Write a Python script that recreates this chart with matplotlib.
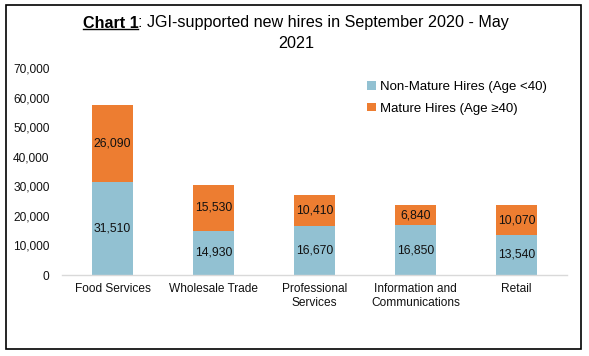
import matplotlib
matplotlib.use("Agg")
import matplotlib.pyplot as plt
from matplotlib.patches import Rectangle
from matplotlib.lines import Line2D
from matplotlib.ticker import FuncFormatter

plt.rcParams['font.family'] = ['Liberation Sans', 'DejaVu Sans']

categories = ["Food Services", "Wholesale Trade", "Professional\nServices",
              "Information and\nCommunications", "Retail"]
non_mature = [31510, 14930, 16670, 16850, 13540]
mature = [26090, 15530, 10410, 6840, 10070]
series_names = ["Non-Mature Hires (Age <40)", "Mature Hires (Age \u226540)"]
colors = ["#92C1D2", "#ED7D31"]

W, H = 589, 356
fig = plt.figure(figsize=(W / 100, H / 100), dpi=100)
ax = fig.add_axes([62 / W, (H - 275) / H, (567 - 62) / W, (275 - 68) / H])

x = list(range(len(categories)))
ax.bar(x, non_mature, width=0.4, color=colors[0], label=series_names[0])
ax.bar(x, mature, width=0.4, bottom=non_mature, color=colors[1], label=series_names[1])

for i in x:
    ax.text(i, non_mature[i] / 2, f"{non_mature[i]:,}", ha="center", va="center", fontsize=8.8, color="#111111")
    ax.text(i, non_mature[i] + mature[i] / 2, f"{mature[i]:,}", ha="center", va="center", fontsize=8.8, color="#111111")

ax.set_xlim(-0.5, len(categories) - 0.5)
ax.set_ylim(0, 70000)
ax.set_yticks(range(0, 70001, 10000))
ax.yaxis.set_major_formatter(FuncFormatter(lambda v, p: f"{int(v):,}"))
ax.set_xticks(x)
ax.set_xticklabels(categories, fontsize=8.6, color="#111111", linespacing=1.2)
ax.tick_params(axis="y", length=0, labelsize=8.6, labelcolor="#111111", pad=9)
ax.tick_params(axis="x", length=0, pad=6)
for s in ["top", "right", "left"]:
    ax.spines[s].set_visible(False)
ax.spines["bottom"].set_color("#D9D9D9")
ax.spines["bottom"].set_linewidth(1.0)

ax.legend(loc="upper left", bbox_to_anchor=((362 - 62) / (567 - 62), 1.0 - (76 - 68) / (275 - 68)),
          frameon=False, fontsize=9.5, handlelength=0.65, handleheight=0.65,
          handletextpad=0.35, labelspacing=0.7, borderaxespad=0)

# border
fig.patches.append(Rectangle((6 / W, (H - 349) / H), 575 / W, 344 / H, transform=fig.transFigure,
                             fill=False, edgecolor="black", linewidth=1.2))

# title
tsize = 11.6
cx = 296 / W
y1 = (H - 23) / H
t_a = fig.text(0, y1, "Chart 1", fontsize=tsize, fontweight="bold", va="center", ha="left")
t_b = fig.text(0, y1, ": JGI-supported new hires in September 2020 - May", fontsize=tsize, va="center", ha="left")
fig.text(cx, (H - 44) / H, "2021", fontsize=tsize, va="center", ha="center")
r = fig.canvas.get_renderer()
wa = t_a.get_window_extent(r).width
wb = t_b.get_window_extent(r).width
start = cx * W - (wa + wb) / 2
t_a.set_x(start / W)
t_b.set_x((start + wa) / W)
ext = t_a.get_window_extent(r)
uy = ext.y0 + 1.5
fig.lines.append(Line2D([start / W, (start + wa) / W], [uy / H, uy / H], transform=fig.transFigure,
                        color="black", linewidth=1.0))

fig.savefig("out.png", dpi=100)
